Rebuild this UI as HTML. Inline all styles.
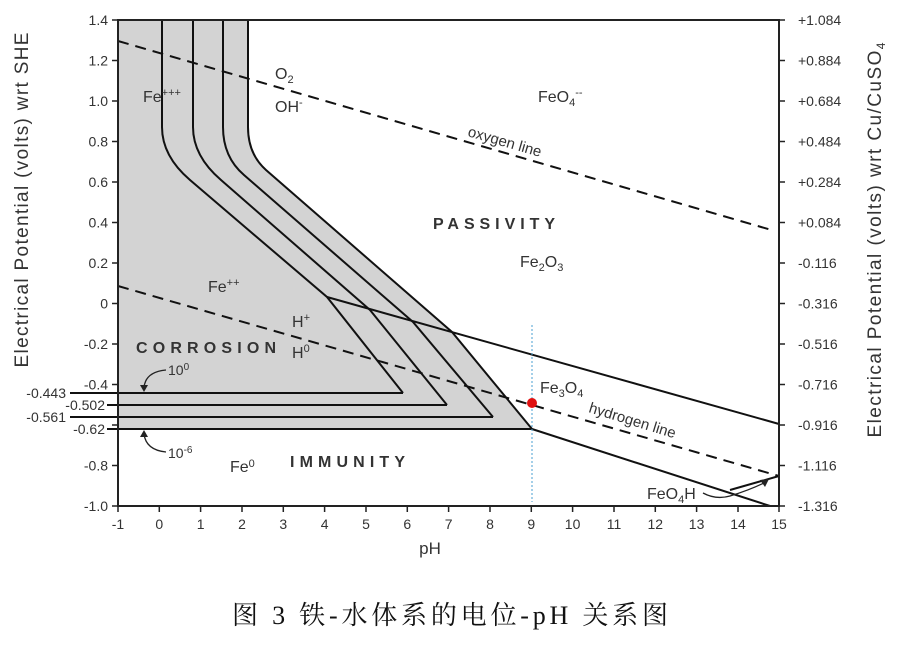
<!DOCTYPE html>
<html><head><meta charset="utf-8"><style>
html,body{margin:0;padding:0;background:#fff;}
svg{display:block;}
text{font-family:"Liberation Sans",Arial,sans-serif;fill:#333;}
.t{font-size:14px;}
.l{font-size:16px;fill:#333;}
.b{font-size:16px;font-weight:bold;fill:#333;}
</style></head><body>
<svg width="910" height="659" viewBox="0 0 910 659" xmlns="http://www.w3.org/2000/svg">
<path d="M118,20 L248,20 L248,127 Q248,154 266,170 L452,332 L532,429 L118,429 Z" fill="#d3d3d3"/>
<g fill="none" stroke="#111" stroke-width="2">
<path d="M162,20 L162,127 Q162,156 190,180 L327,297 L403,393"/>
<path d="M193,20 L193,127 Q193,156 221,180 L370,310 L447,405"/>
<path d="M223,20 L223,127 Q223,157 244,175 L413,322 L493,417"/>
<path d="M248,20 L248,127 Q248,154 266,170 L452,332 L532,429"/>
<path d="M70,393 L403,393"/>
<path d="M107,405 L447,405"/>
<path d="M70,417 L493,417"/>
<path d="M107,429 L532,429"/>
<path d="M327,297 L779,424"/>
<path d="M532,429 L770,506"/>
<path d="M730,490 L779,476"/>
</g>
<g fill="none" stroke="#111" stroke-width="2" stroke-dasharray="11,7">
<path d="M118,41 L775,231"/>
<path d="M118,286 L779,476"/>
</g>
<path d="M532,325 L532,502" stroke="#4a9fd0" stroke-width="1" stroke-dasharray="2,2"/>
<circle cx="532" cy="403" r="5" fill="#e01010"/>
<g stroke="#222" stroke-width="2" fill="none">
<path d="M118,20 L779,20 L779,506 L118,506 Z"/>
</g>
<g stroke="#222" stroke-width="1.5">
<path d="M112,20H118M112,60.5H118M112,101H118M112,141.5H118M112,182H118M112,222.5H118M112,263H118M112,303.5H118M112,344H118M112,384.5H118M112,425H118M112,465.5H118M112,506H118"/>
<path d="M779,20H785M779,60.5H785M779,101H785M779,141.5H785M779,182H785M779,222.5H785M779,263H785M779,303.5H785M779,344H785M779,384.5H785M779,425H785M779,465.5H785M779,506H785"/>
<path d="M118,506V512M159.3,506V512M200.6,506V512M242,506V512M283.3,506V512M324.6,506V512M366,506V512M407.3,506V512M448.6,506V512M490,506V512M531.3,506V512M572.6,506V512M614,506V512M655.3,506V512M696.6,506V512M738,506V512M779,506V512"/>
</g>
<g class="t" text-anchor="end">
<text x="108" y="25">1.4</text><text x="108" y="65.5">1.2</text><text x="108" y="106">1.0</text><text x="108" y="146.5">0.8</text><text x="108" y="187">0.6</text><text x="108" y="227.5">0.4</text><text x="108" y="268">0.2</text><text x="108" y="308.5">0</text><text x="108" y="349">-0.2</text><text x="108" y="389.5">-0.4</text><text x="108" y="470.5">-0.8</text><text x="108" y="511">-1.0</text>
<text x="66" y="398">-0.443</text><text x="105" y="410">-0.502</text><text x="66" y="422">-0.561</text><text x="105" y="434">-0.62</text>
</g>
<g class="t">
<text x="798" y="25">+1.084</text><text x="798" y="65.5">+0.884</text><text x="798" y="106">+0.684</text><text x="798" y="146.5">+0.484</text><text x="798" y="187">+0.284</text><text x="798" y="227.5">+0.084</text><text x="798" y="268">-0.116</text><text x="798" y="308.5">-0.316</text><text x="798" y="349">-0.516</text><text x="798" y="389.5">-0.716</text><text x="798" y="430">-0.916</text><text x="798" y="470.5">-1.116</text><text x="798" y="511">-1.316</text>
</g>
<g class="t" text-anchor="middle">
<text x="118" y="529">-1</text><text x="159.3" y="529">0</text><text x="200.6" y="529">1</text><text x="242" y="529">2</text><text x="283.3" y="529">3</text><text x="324.6" y="529">4</text><text x="366" y="529">5</text><text x="407.3" y="529">6</text><text x="448.6" y="529">7</text><text x="490" y="529">8</text><text x="531.3" y="529">9</text><text x="572.6" y="529">10</text><text x="614" y="529">11</text><text x="655.3" y="529">12</text><text x="696.6" y="529">13</text><text x="738" y="529">14</text><text x="779" y="529">15</text>
</g>
<text x="430" y="554" text-anchor="middle" style="font-size:17px">pH</text>
<text transform="translate(28,200) rotate(-90)" text-anchor="middle" style="font-size:19px" textLength="335" lengthAdjust="spacing">Electrical Potential (volts) wrt SHE</text>
<text transform="translate(881,240) rotate(-90)" text-anchor="middle" style="font-size:19px" textLength="395" lengthAdjust="spacing">Electrical Potential (volts) wrt Cu/CuSO<tspan dy="4" style="font-size:12px">4</tspan></text>
<text class="l" x="143" y="102">Fe<tspan dy="-6" style="font-size:11px">+++</tspan></text>
<text class="l" x="275" y="79">O<tspan dy="4" style="font-size:11px">2</tspan></text>
<text class="l" x="275" y="112">OH<tspan dy="-6" style="font-size:11px">-</tspan></text>
<text class="l" x="538" y="102">FeO<tspan dy="4" style="font-size:11px">4</tspan><tspan dy="-10" style="font-size:11px">--</tspan></text>
<text class="t" style="font-size:15px" transform="translate(467,136) rotate(16)">oxygen line</text>
<text class="b" x="433" y="229" textLength="122" lengthAdjust="spacing">PASSIVITY</text>
<text class="l" x="520" y="267">Fe<tspan dy="4" style="font-size:11px">2</tspan><tspan dy="-4">O</tspan><tspan dy="4" style="font-size:11px">3</tspan></text>
<text class="l" x="208" y="292">Fe<tspan dy="-6" style="font-size:11px">++</tspan></text>
<text class="l" x="292" y="327">H<tspan dy="-6" style="font-size:11px">+</tspan></text>
<text class="l" x="292" y="358">H<tspan dy="-6" style="font-size:11px">0</tspan></text>
<text class="b" x="136" y="353" textLength="140" lengthAdjust="spacing">CORROSION</text>
<text class="l" x="540" y="393">Fe<tspan dy="4" style="font-size:11px">3</tspan><tspan dy="-4">O</tspan><tspan dy="4" style="font-size:11px">4</tspan></text>
<text class="t" style="font-size:15px" transform="translate(588,412) rotate(17)">hydrogen line</text>
<text class="l" x="230" y="472">Fe<tspan dy="-5" style="font-size:11px">0</tspan></text>
<text class="b" x="290" y="467" textLength="115" lengthAdjust="spacing">IMMUNITY</text>
<text class="l" x="647" y="499">FeO<tspan dy="4" style="font-size:11px">4</tspan><tspan dy="-4">H</tspan></text>
<text class="t" x="168" y="375">10<tspan dy="-5" style="font-size:10px">0</tspan></text>
<text class="t" x="168" y="458">10<tspan dy="-5" style="font-size:10px">-6</tspan></text>
<g fill="none" stroke="#222" stroke-width="1.3">
<path d="M166,370 Q145,372 144,388"/>
<path d="M166,452 Q146,450 144,434"/>
<path d="M703,493 Q716,500 730,496 Q750,490 766,482"/>
</g>
<path d="M140,385 L148,385 L144,392 Z" fill="#222"/>
<path d="M140,437 L148,437 L144,430 Z" fill="#222"/>
<path d="M769,479 L760,480 L765,487 Z" fill="#222"/>
<text x="450" y="624" text-anchor="middle" textLength="436" lengthAdjust="spacing" style="font-family:'Liberation Serif','Noto Serif CJK SC',serif;font-size:26px;fill:#111">图 3  铁-水体系的电位-pH 关系图</text>
</svg>
</body></html>
